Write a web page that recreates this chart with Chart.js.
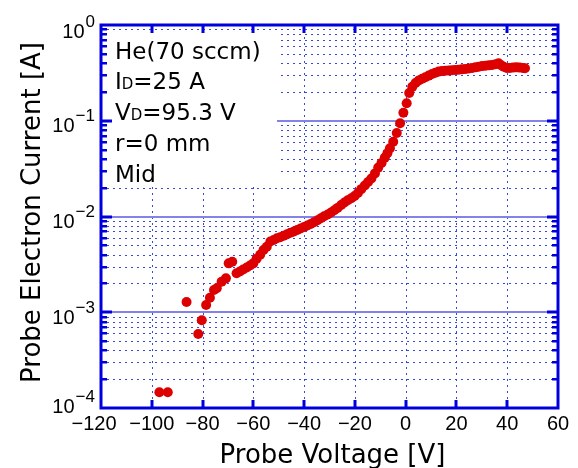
<!DOCTYPE html>
<html>
<head>
<meta charset="utf-8">
<script src="https://cdn.jsdelivr.net/npm/chart.js@4.4.1/dist/chart.umd.min.js"></script>
<style>
  html, body { margin: 0; padding: 0; background: #fff; }
  canvas { display: block; }
</style>
</head>
<body>
<canvas id="myChart" width="578" height="468"></canvas>
<script>
// probe I-V sweep: voltage [V] and electron current [A]
const voltage = [
  -97.0, -93.7, -86.3, -81.7, -80.3, -78.6, -77.1, -75.5, -74.4, -72.5,
  -70.8, -69.7, -68.3, -66.6, -65.3, -64.0, -62.6, -61.3, -60.0, -58.7,
  -57.3, -56.0, -54.7, -53.3, -52.0, -50.7, -49.4, -48.0, -46.7, -45.4,
  -44.0, -42.7, -41.4, -40.0, -38.7, -37.4, -36.1, -34.7, -33.4, -32.1,
  -30.7, -29.4, -28.1, -26.8, -25.4, -24.1, -22.8, -21.4, -20.1, -18.8,
  -17.5, -16.1, -14.8, -13.5, -12.1, -10.8, -9.5, -8.2, -7.2, -6.2,
  -4.9, -3.5, -2.2, -0.9, 0.4, 1.4, 2.6, 3.9, 5.2, 6.5,
  7.8, 9.1, 10.4, 11.7, 13.0, 14.3, 15.6, 17.0, 18.3, 19.6,
  20.9, 22.2, 23.6, 24.9, 26.2, 27.5, 28.8, 30.1, 31.5, 32.8,
  34.1, 35.4, 36.6, 37.6, 38.6, 39.8, 41.0, 42.3, 43.6, 44.9,
  46.2, 47.0
];
const current = [
  1.46e-4, 1.46e-4, 1.28e-3, 5.93e-4, 8.24e-4, 1.19e-3, 1.42e-3, 1.71e-3, 1.78e-3, 2.08e-3,
  2.26e-3, 3.24e-3, 3.37e-3, 2.55e-3, 2.66e-3, 2.79e-3, 2.93e-3, 3.08e-3, 3.24e-3, 3.63e-3,
  3.98e-3, 4.47e-3, 4.84e-3, 5.47e-3, 5.69e-3, 5.92e-3, 6.07e-3, 6.31e-3, 6.53e-3, 6.76e-3,
  6.98e-3, 7.24e-3, 7.50e-3, 7.76e-3, 8.04e-3, 8.36e-3, 8.71e-3, 9.12e-3, 9.59e-3, 1.005e-2,
  1.05e-2, 1.10e-2, 1.16e-2, 1.23e-2, 1.32e-2, 1.40e-2, 1.48e-2, 1.55e-2, 1.64e-2, 1.76e-2,
  1.93e-2, 2.11e-2, 2.29e-2, 2.49e-2, 2.82e-2, 3.24e-2, 3.63e-2, 4.12e-2, 4.57e-2, 5.15e-2,
  6.03e-2, 7.45e-2, 9.40e-2, 0.121, 0.152, 0.195, 0.226, 0.248, 0.264, 0.275,
  0.285, 0.296, 0.308, 0.318, 0.326, 0.330, 0.333, 0.334, 0.337, 0.339,
  0.341, 0.344, 0.348, 0.352, 0.356, 0.361, 0.366, 0.372, 0.376, 0.379,
  0.382, 0.389, 0.398, 0.380, 0.366, 0.355, 0.355, 0.359, 0.361, 0.359,
  0.355, 0.353
];

const xTicks = [-120, -100, -80, -60, -40, -20, 0, 20, 40, 60];
const xTickLabels = ['\u2212120', '\u2212100', '\u221280', '\u221260', '\u221240', '\u221220', '0', '20', '40', '60'];
const yDecades = [1e-4, 1e-3, 1e-2, 1e-1, 1];
const yExponents = ['\u22124', '\u22123', '\u22122', '\u22121', '0'];

// condition notes, [text, isSubscript] runs per line
const noteLines = [
  [['He(70 sccm)', false]],
  [['I', false], ['D', true], ['=25 A', false]],
  [['V', false], ['D', true], ['=95.3 V', false]],
  [['r=0 mm', false]],
  [['Mid', false]]
];

const xTitle = 'Probe Voltage [V]';
const yTitle = 'Probe Electron Current [A]';

const BLUE = '#0000dc';
const TICK_FONT = '"Liberation Sans", Arial, sans-serif';
const TEXT_FONT = '"DejaVu Sans", sans-serif';

const points = voltage.map((v, i) => ({ x: v, y: current[i] }));

const frame = {
  id: 'frame',
  beforeDraw(chart) {
    const ctx = chart.ctx;
    ctx.save();
    ctx.fillStyle = '#fff';
    ctx.fillRect(0, 0, chart.width, chart.height);
    ctx.restore();
  },
  beforeDatasetsDraw(chart) {
    const { ctx, chartArea: a, scales: { x, y } } = chart;
    ctx.save();

    // dotted minor grid
    ctx.lineWidth = 1;
    ctx.strokeStyle = '#3a48dc';
    ctx.setLineDash([2, 4]);
    for (let d = 0; d < yDecades.length - 1; d++) {
      for (let m = 2; m <= 9; m++) {
        const py = Math.round(y.getPixelForValue(m * yDecades[d])) + 0.5;
        ctx.beginPath();
        ctx.moveTo(a.left, py);
        ctx.lineTo(a.right, py);
        ctx.stroke();
      }
    }
    for (let i = 1; i < xTicks.length - 1; i++) {
      const px = Math.round(x.getPixelForValue(xTicks[i])) + 0.5;
      ctx.beginPath();
      ctx.moveTo(px, a.top);
      ctx.lineTo(px, a.bottom);
      ctx.stroke();
    }
    ctx.setLineDash([]);

    // solid decade lines
    ctx.strokeStyle = '#8282e8';
    ctx.lineWidth = 2;
    for (let d = 1; d < yDecades.length - 1; d++) {
      const py = Math.round(y.getPixelForValue(yDecades[d]));
      ctx.beginPath();
      ctx.moveTo(a.left, py);
      ctx.lineTo(a.right, py);
      ctx.stroke();
    }

    // blank panel behind the notes
    ctx.fillStyle = '#fff';
    ctx.fillRect(a.left + 2, a.top + 6, 174, 155);
    ctx.restore();
  },
  afterDatasetsDraw(chart) {
    const { ctx, chartArea: a, scales: { x, y } } = chart;
    ctx.save();

    // frame
    ctx.strokeStyle = BLUE;
    ctx.lineWidth = 3;
    ctx.strokeRect(a.left, a.top, a.right - a.left, a.bottom - a.top);

    // inward ticks, top and bottom
    ctx.fillStyle = BLUE;
    for (let i = 1; i < xTicks.length - 1; i++) {
      const px = Math.round(x.getPixelForValue(xTicks[i]));
      ctx.fillRect(px - 1.5, a.bottom - 8, 3, 8);
      ctx.fillRect(px - 1.5, a.top, 3, 8);
    }
    // inward ticks, left and right
    for (let d = 0; d < yDecades.length; d++) {
      const py = Math.round(y.getPixelForValue(yDecades[d]));
      if (d > 0 && d < yDecades.length - 1) {
        ctx.fillRect(a.left, py - 1.5, 11, 3);
        ctx.fillRect(a.right - 11, py - 1.5, 11, 3);
      }
      if (d === yDecades.length - 1) continue;
      for (let m = 2; m <= 9; m++) {
        const pm = Math.round(y.getPixelForValue(m * yDecades[d]));
        ctx.fillRect(a.left, pm - 1, 6, 2.5);
        ctx.fillRect(a.right - 6, pm - 1, 6, 2.5);
      }
    }

    // x tick labels
    ctx.fillStyle = '#000';
    ctx.font = '20px ' + TICK_FONT;
    ctx.textAlign = 'center';
    ctx.textBaseline = 'middle';
    xTicks.forEach((v, i) => {
      let px = x.getPixelForValue(v);
      if (i === 0) px -= 7;
      ctx.fillText(xTickLabels[i], px, a.bottom + 16);
    });

    // y tick labels as 10^n
    yDecades.forEach((v, i) => {
      const py = y.getPixelForValue(v);
      let shift = 6;
      if (i === 0) shift = -1;
      if (i === yDecades.length - 1) shift = 7;
      ctx.font = '17px ' + TICK_FONT;
      const ew = ctx.measureText(yExponents[i]).width;
      ctx.textAlign = 'right';
      ctx.fillText(yExponents[i], a.left - 6, py + shift - 10);
      ctx.font = '20px ' + TICK_FONT;
      ctx.fillText('10', a.left - 7 - ew, py + shift);
    });

    // axis titles
    ctx.font = '26px ' + TEXT_FONT;
    ctx.textAlign = 'center';
    ctx.textBaseline = 'alphabetic';
    ctx.fillText(xTitle, (a.left + a.right) / 2 + 3, chart.height - 5);
    ctx.save();
    ctx.translate(40, (a.top + a.bottom) / 2 - 4);
    ctx.rotate(-Math.PI / 2);
    ctx.fillText(yTitle, 0, 0);
    ctx.restore();

    // notes
    ctx.textAlign = 'left';
    noteLines.forEach((runs, li) => {
      let px = a.left + 14;
      const base = a.top + 33.5 + li * 30.8;
      runs.forEach(([txt, sub]) => {
        ctx.font = (sub ? '15px ' : '23px ') + TEXT_FONT;
        ctx.fillText(txt, px, base);
        px += ctx.measureText(txt).width;
      });
    });
    ctx.restore();
  }
};

const ctx = document.getElementById('myChart').getContext('2d');
const myChart = new Chart(ctx, {
  type: 'scatter',
  data: {
    datasets: [{
      data: points,
      backgroundColor: '#dd0000',
      borderWidth: 0,
      pointRadius: 5,
      pointHoverRadius: 5
    }]
  },
  options: {
    responsive: false,
    animation: false,
    layout: { padding: { left: 101, top: 25, right: 20, bottom: 60 } },
    plugins: { legend: { display: false }, tooltip: { enabled: false } },
    scales: {
      x: { type: 'linear', min: -120, max: 60, display: false },
      y: { type: 'logarithmic', min: 1e-4, max: 1, display: false }
    }
  },
  plugins: [frame]
});
</script>
</body>
</html>
